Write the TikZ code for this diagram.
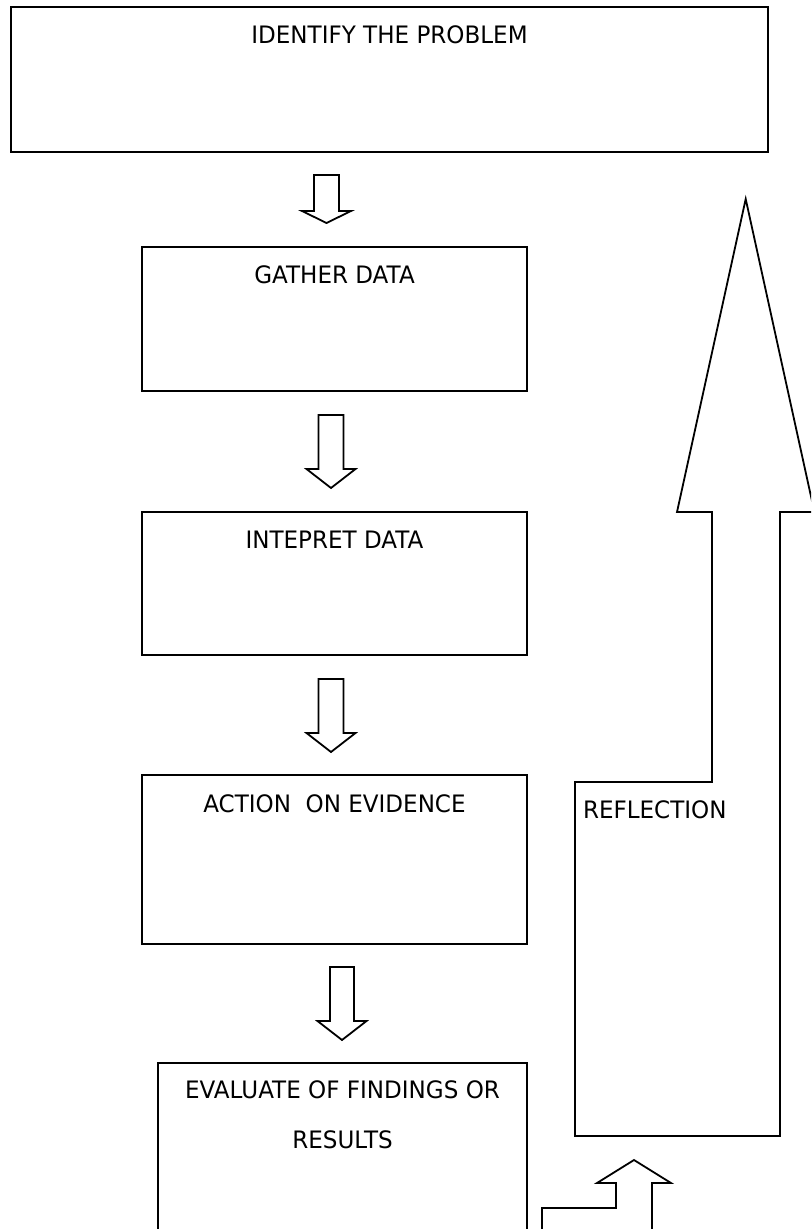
\documentclass[tikz,border=0pt]{standalone}
\usepackage{fontspec}
\setmainfont{DejaVu Sans}[FakeStretch=0.96]
\begin{document}
\begin{tikzpicture}[x=0.5pt,y=-0.5pt,
  box/.style={draw=black,line width=0.9pt,inner sep=0pt,outer sep=0pt,rectangle},
  lbl/.style={inner sep=0pt,outer sep=0pt,font=\fontsize{12}{25}\selectfont,align=center},
  blk/.style={draw=black,line width=0.9pt,line join=miter,fill=white}]
\useasboundingbox (0,0) rectangle (811,1229);
\clip (0,0) rectangle (811,1229);
% boxes
\node[box,minimum width=378.5pt,minimum height=72.5pt] (b1) at (389.5,79.5) {};
\node[box,minimum width=192.5pt,minimum height=72pt] (b2) at (334.5,319) {};
\node[box,minimum width=192.5pt,minimum height=71.5pt] (b3) at (334.5,583.5) {};
\node[box,minimum width=192.5pt,minimum height=84.5pt] (b4) at (334.5,859.5) {};
\draw[line width=0.9pt] (158,1240) -- (158,1063) -- (527,1063) -- (527,1240);
\coordinate (b5top) at (342.5,1063);
% labels
\node[lbl,anchor=base] (t1) at (389.5,43.5) {IDENTIFY THE PROBLEM};
\node[lbl,anchor=base] (t2) at (334.5,283.5) {GATHER DATA};
\node[lbl,anchor=base] (t3) at (334.5,548.5) {INTEPRET DATA};
\node[lbl,anchor=base] (t4) at (334.5,812) {ACTION~~ON EVIDENCE};
\node[lbl,anchor=base] (t5a) at (342.5,1098) {EVALUATE OF FINDINGS OR};
\node[lbl,anchor=base] (t5b) at (342.5,1148) {RESULTS};
% block arrows down
\draw[blk] (314,175) -- (339,175) -- (339,211) -- (351,211) -- (326.5,223) -- (302,211) -- (314,211) -- cycle;
\draw[blk] (318.5,415) -- (343.5,415) -- (343.5,469) -- (355.5,469) -- (331,488) -- (306.5,469) -- (318.5,469) -- cycle;
\draw[blk] (318.5,679) -- (343.5,679) -- (343.5,733) -- (355.5,733) -- (331,752) -- (306.5,733) -- (318.5,733) -- cycle;
\draw[blk] (330,967) -- (354,967) -- (354,1021) -- (366.5,1021) -- (342,1040) -- (317.5,1021) -- (330,1021) -- cycle;
% reflection box with big up arrow
\draw[blk] (575,782) -- (712,782) -- (712,512) -- (677,512) -- (745.7,199) -- (814.4,512) -- (780,512) -- (780,1136) -- (575,1136) -- cycle;
\node[lbl,anchor=base west] (tr) at (583,818.5) {REFLECTION};
% small stepped up arrow
\draw[line width=0.9pt,line join=miter] (542,1240) -- (542,1208) -- (616,1208) -- (616,1183) -- (597,1183) -- (634,1160) -- (671,1183) -- (652,1183) -- (652,1240);
\end{tikzpicture}
\end{document}
